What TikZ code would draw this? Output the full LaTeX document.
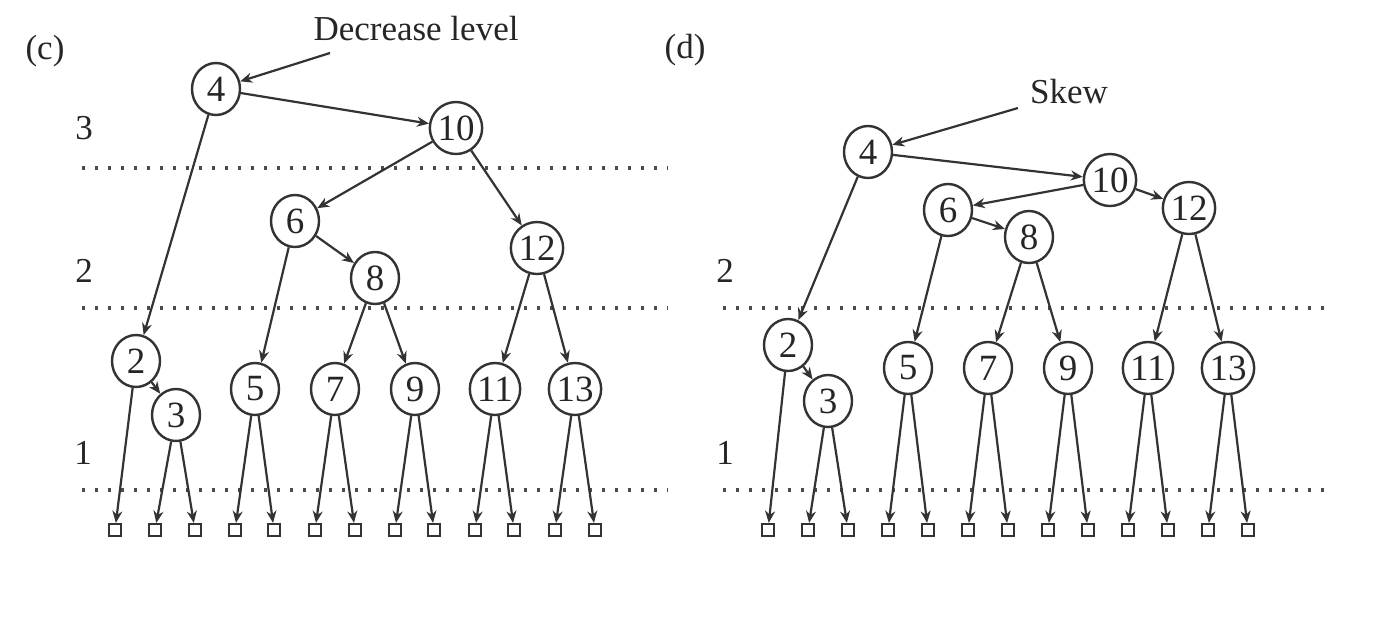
\documentclass[tikz,border=0pt]{standalone}
\usepackage{fontspec}
\setmainfont{Liberation Serif}
\usetikzlibrary{shapes.geometric,arrows.meta}
\begin{document}
\begin{tikzpicture}[x=0.5pt,y=-0.5pt,
  tn/.style={ellipse,draw=black!80,line width=1.2pt,minimum width=24pt,minimum height=26pt,inner sep=0pt,font=\fontsize{18.5}{18.5}\selectfont,fill=white,text=black!85},
  leaf/.style={rectangle,draw=black!80,line width=1.1pt,minimum size=6pt,inner sep=0pt,fill=white},
  edge/.style={draw=black!80,line width=1.1pt,-{Stealth[length=6pt,width=5pt]}},
  lvl/.style={draw=black!70,line width=1.8pt,dash pattern=on 1.6pt off 4.9pt},
  lbl/.style={font=\fontsize{17.5}{17.5}\selectfont,inner sep=0pt,text=black!85}]
\path[use as bounding box,fill=white] (0,0) rectangle (1388,628);

% ---------------- panel (c) ----------------
\node[lbl] (clab) at (45,51) {(c)};
\node[lbl] (cl3) at (84,128) {3};
\node[lbl] (cl2) at (84,271) {2};
\node[lbl] (cl1) at (83,453) {1};
\coordinate (cd1a) at (82,168); \coordinate (cd1b) at (668,168);
\coordinate (cd2a) at (82,308); \coordinate (cd2b) at (668,308);
\coordinate (cd3a) at (82,490); \coordinate (cd3b) at (668,490);
\draw[lvl] (cd1a) -- (cd1b);
\draw[lvl] (cd2a) -- (cd2b);
\draw[lvl] (cd3a) -- (cd3b);

\node[tn] (c4) at (216,89) {4};
\node[tn] (c10) at (456,128) {10};
\node[tn] (c6) at (295,221) {6};
\node[tn] (c12) at (537,248) {12};
\node[tn] (c8) at (375,278) {8};
\node[tn] (c2) at (136,361) {2};
\node[tn] (c3) at (176,415) {3};
\node[tn] (c5) at (255,389) {5};
\node[tn] (c7) at (335,389) {7};
\node[tn] (c9) at (415,389) {9};
\node[tn] (c11) at (495,389) {11};
\node[tn] (c13) at (575,389) {13};
\foreach \i/\x in {1/115,2/155,3/195,4/235,5/274,6/315,7/355,8/395,9/434,10/475,11/514,12/555,13/595}
  \node[leaf] (cq\i) at (\x,530) {};

\node[lbl] (cdec) at (416,29) {Decrease level};
\coordinate (cdecs) at (330,53);
\draw[edge] (cdecs) -- (c4);

\foreach \a/\b in {c4/c10,c4/c2,c10/c6,c10/c12,c6/c5,c6/c8,c8/c7,c8/c9,c12/c11,c12/c13,
  c2/c3,c2/cq1,c3/cq2,c3/cq3,c5/cq4,c5/cq5,c7/cq6,c7/cq7,c9/cq8,c9/cq9,c11/cq10,c11/cq11,c13/cq12,c13/cq13}
  \draw[edge] (\a) -- (\b);

% ---------------- panel (d) ----------------
\node[lbl] (dlab) at (685,50) {(d)};
\node[lbl] (dl2) at (725,271) {2};
\node[lbl] (dl1) at (725,453) {1};
\coordinate (dd2a) at (723,308); \coordinate (dd2b) at (1330,308);
\coordinate (dd3a) at (723,490); \coordinate (dd3b) at (1330,490);
\draw[lvl] (dd2a) -- (dd2b);
\draw[lvl] (dd3a) -- (dd3b);

\node[tn] (d4) at (868,152) {4};
\node[tn] (d10) at (1110,180) {10};
\node[tn] (d6) at (948,210) {6};
\node[tn] (d8) at (1029,237) {8};
\node[tn] (d12) at (1189,208) {12};
\node[tn] (d2) at (788,345) {2};
\node[tn] (d3) at (828,401) {3};
\node[tn] (d5) at (908,368) {5};
\node[tn] (d7) at (988,368) {7};
\node[tn] (d9) at (1068,368) {9};
\node[tn] (d11) at (1148,368) {11};
\node[tn] (d13) at (1228,368) {13};
\foreach \i/\x in {1/768,2/808,3/848,4/888,5/928,6/968,7/1008,8/1048,9/1088,10/1128,11/1168,12/1208,13/1248}
  \node[leaf] (dq\i) at (\x,530) {};

\node[lbl] (dskew) at (1069,92) {Skew};
\coordinate (dskews) at (1018,108);
\draw[edge] (dskews) -- (d4);

\foreach \a/\b in {d4/d10,d4/d2,d10/d6,d10/d12,d6/d5,d6/d8,d8/d7,d8/d9,d12/d11,d12/d13,
  d2/d3,d2/dq1,d3/dq2,d3/dq3,d5/dq4,d5/dq5,d7/dq6,d7/dq7,d9/dq8,d9/dq9,d11/dq10,d11/dq11,d13/dq12,d13/dq13}
  \draw[edge] (\a) -- (\b);
\end{tikzpicture}
\end{document}
